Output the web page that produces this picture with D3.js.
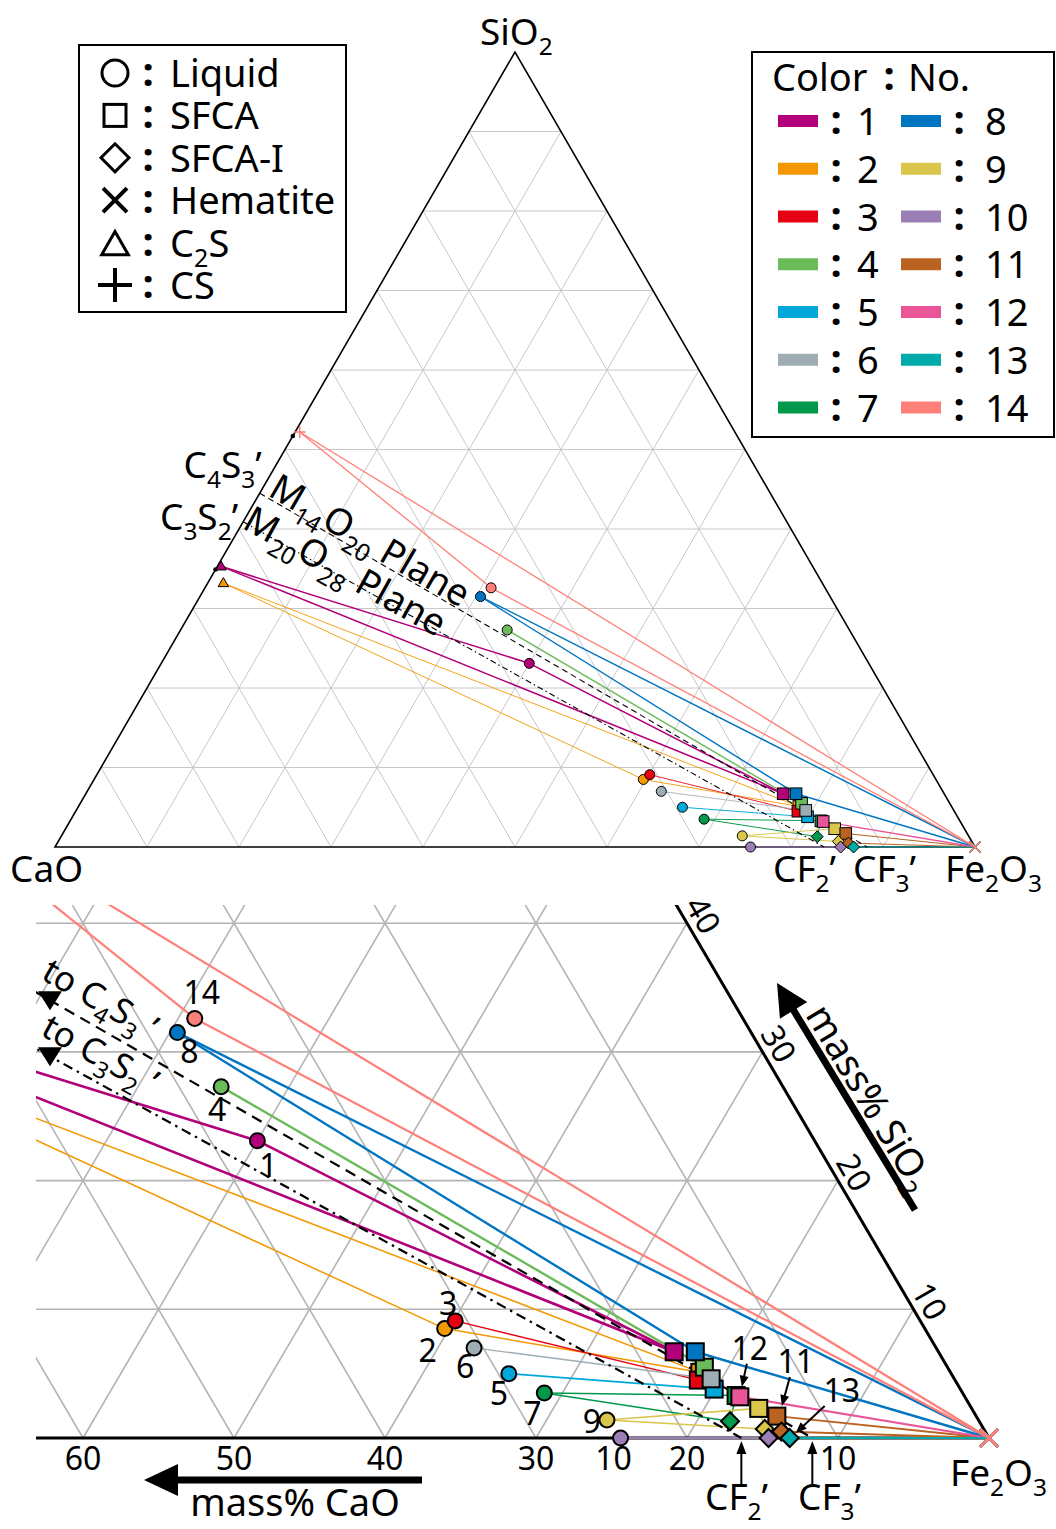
<!DOCTYPE html>
<html lang="en">
<head>
<meta charset="UTF-8">
<title>CaO-SiO2-Fe2O3 phase compositions</title>
<script src="https://d3js.org/d3.v7.min.js"></script>
<style>
  body { margin: 0; background: #fff; }
  text { font-family: "Noto Sans", "DejaVu Sans", sans-serif; fill: #000; }
</style>
</head>
<body>
<svg width="1056" height="1529"></svg>
<script>
// sample numbers and colours
const sampleNo = d3.range(1, 15);
const sampleColor = ["#b10079", "#f39800", "#e60012", "#6cbb5a", "#00a7db", "#9eacb4", "#00984a",
                     "#0075c2", "#d9c64b", "#9c7eb7", "#ba6321", "#e95598", "#00aba9", "#ff8078"];

// phase compositions, mass% (Fe2O3 is the balance)
const liquid = [
  { no: 1, CaO: 36.9, SiO2: 23.1 }, { no: 2, CaO: 31.8, SiO2: 8.5 }, { no: 3, CaO: 30.8, SiO2: 9.1 },
  { no: 4, CaO: 37.2, SiO2: 27.3 }, { no: 5, CaO: 29.3, SiO2: 5.0 }, { no: 6, CaO: 30.6, SiO2: 7.0 },
  { no: 7, CaO: 27.7, SiO2: 3.5 }, { no: 8, CaO: 38.0, SiO2: 31.5 }, { no: 9, CaO: 24.6, SiO2: 1.4 },
  { no: 10, CaO: 24.4, SiO2: 0.0 }, { no: 14, CaO: 36.3, SiO2: 32.6 }
];
const sfca = [
  { no: 1, CaO: 17.5, SiO2: 6.7 }, { no: 2, CaO: 16.6, SiO2: 5.1 }, { no: 3, CaO: 17.0, SiO2: 4.5 },
  { no: 4, CaO: 16.1, SiO2: 5.5 }, { no: 5, CaO: 16.3, SiO2: 3.8 }, { no: 6, CaO: 16.1, SiO2: 4.6 },
  { no: 7, CaO: 15.1, SiO2: 3.3 }, { no: 8, CaO: 16.1, SiO2: 6.7 }, { no: 9, CaO: 14.1, SiO2: 2.3 },
  { no: 11, CaO: 13.2, SiO2: 1.7 }, { no: 12, CaO: 14.9, SiO2: 3.2 }
];
const sfcaI = [
  { no: 7, CaO: 16.5, SiO2: 1.3 }, { no: 9, CaO: 14.5, SiO2: 0.7 }, { no: 10, CaO: 14.6, SiO2: 0.0 },
  { no: 11, CaO: 13.5, SiO2: 0.5 }, { no: 13, CaO: 13.2, SiO2: 0.0 }
];
const c2s = [{ no: 1, CaO: 64.3, SiO2: 35.3 }, { no: 2, CaO: 65.1, SiO2: 33.2 }];
const cs = [{ no: 14, CaO: 47.3, SiO2: 52.2 }];
const hematite = [
  { no: 8, CaO: 0, SiO2: 0 }, { no: 11, CaO: 0, SiO2: 0 }, { no: 12, CaO: 0, SiO2: 0 },
  { no: 13, CaO: 0, SiO2: 0 }, { no: 14, CaO: 0, SiO2: 0 }
];

// tie lines: [sample, phase, phase]
const tieLines = [
  [1, "C2S", "Liquid"], [1, "C2S", "SFCA"], [1, "Liquid", "SFCA"],
  [2, "C2S", "Liquid"], [2, "C2S", "SFCA"], [2, "Liquid", "SFCA"],
  [3, "Liquid", "SFCA"], [4, "Liquid", "SFCA"], [5, "Liquid", "SFCA"], [6, "Liquid", "SFCA"],
  [7, "Liquid", "SFCA"], [7, "Liquid", "SFCA-I"], [7, "SFCA", "SFCA-I"],
  [8, "Liquid", "SFCA"], [8, "Liquid", "Hematite"], [8, "SFCA", "Hematite"],
  [9, "Liquid", "SFCA"], [9, "Liquid", "SFCA-I"], [9, "SFCA", "SFCA-I"],
  [10, "Liquid", "SFCA-I"],
  [11, "SFCA", "Hematite"], [11, "SFCA-I", "Hematite"], [11, "SFCA", "SFCA-I"],
  [12, "SFCA", "Hematite"], [13, "SFCA-I", "Hematite"],
  [14, "CS", "Liquid"], [14, "CS", "Hematite"], [14, "Liquid", "Hematite"]
];

// stoichiometric CS and C2S
const refDots = [{ CaO: 48.3, SiO2: 51.7 }, { CaO: 65.1, SiO2: 34.9 }];

// plane traces
const planeEnds = {
  "C4S3": { CaO: 55.5, SiO2: 44.5 }, "C3S2": { CaO: 59.1, SiO2: 40.9 },
  "CF2": { CaO: 16.4, SiO2: 0 }, "CF3": { CaO: 11.7, SiO2: 0 }
};
const planes = [
  { from: "C4S3", to: "CF3", label: "M_14O_20 Plane", endLabel: "C_4S_3’", toLabel: "to C_4S_3 ’" },
  { from: "C3S2", to: "CF2", label: "M_20O_28 Plane", endLabel: "C_3S_2’", toLabel: "to C_3S_2 ’" }
];

const cao_ticks = [10, 20, 30, 40, 50, 60];
const sio2_ticks = [10, 20, 30, 40];
const phaseNames = ["Liquid", "SFCA", "SFCA-I", "Hematite", "C2S", "CS"];
const phaseLabels = ["Liquid", "SFCA", "SFCA-I", "Hematite", "C_2S", "CS"];

// ---------------- layout / style ----------------
const svg = d3.select("svg");
const topSc = { x: d3.scaleLinear().domain([0, 100]).range([55, 975]),
                y: d3.scaleLinear().domain([0, 100]).range([847, 52]) };
const botSc = { x: d3.scaleLinear().domain([0, 100]).range([-521, 989]),
                y: d3.scaleLinear().domain([0, 100]).range([1438, 151]) };
const pos = (sc, cao, sio2) => [sc.x(100 - cao - sio2 / 2), sc.y(sio2)];

const topStyle = { grid: "#c8c8c8", gridW: 1, edgeW: 1.6, lw: 0.6, r: 5, sq: 5.8, dia: 6, tri: 5.5,
                   plus: 6, cross: 5.5, mk: 1, symW: 1.5, planeW: 1.1, dashes: ["6,4", "6,3,1.5,3"] };
const botStyle = { grid: "#b4b4b4", gridW: 1.6, edgeW: 3, lw: 1, r: 7.5, sq: 8.5, dia: 9, tri: 9,
                   plus: 9, cross: 9, mk: 2, symW: 3, planeW: 2.2, dashes: ["11,7", "10,5,2.5,5"] };
const lineWidth = { 1: 2.6, 2: 1.5, 3: 1.4, 4: 2.4, 5: 1.6, 6: 1.4, 7: 1.6, 8: 2.4, 9: 1.6,
                    10: 2, 11: 2, 12: 2.2, 13: 2, 14: 2.2 };

const phaseData = { "Liquid": liquid, "SFCA": sfca, "SFCA-I": sfcaI, "C2S": c2s, "CS": cs, "Hematite": hematite };
const colorOf = no => sampleColor[sampleNo.indexOf(no)];
const find = (no, ph) => phaseData[ph].find(d => d.no === no);

// text with "_" subscripts
function rich(t, str, fs) {
  let low = false;
  str.split(/(_\d+)/).filter(s => s !== "").forEach(p => {
    const sub = p[0] === "_";
    const ts = t.append("tspan").text(sub ? p.slice(1) : p);
    if (sub) { ts.attr("font-size", fs * 0.66).attr("dy", fs * 0.27); low = true; }
    else if (low) { ts.attr("dy", -fs * 0.27); low = false; }
  });
  return t;
}
function label(g, str, x, y, fs, anchor = "start", rot = 0, lx = 0, ly = 0) {
  const t = g.append("text").attr("font-size", fs).attr("text-anchor", anchor)
    .attr("transform", `translate(${x},${y}) rotate(${rot})`).attr("x", lx).attr("y", ly);
  return rich(t, str, fs);
}
function colon(g, x, y) {
  g.append("text").attr("x", x).attr("y", y).attr("font-size", 40).attr("font-weight", "bold")
    .attr("text-anchor", "middle").text(":");
}
function arrow(g, x0, y0, x1, y1, w, hl, hw) {
  const ang = Math.atan2(y1 - y0, x1 - x0) * 180 / Math.PI;
  const L = Math.hypot(x1 - x0, y1 - y0);
  const a = g.append("g").attr("transform", `translate(${x0},${y0}) rotate(${ang})`);
  a.append("line").attr("x2", L - hl + 1).attr("stroke", "#000").attr("stroke-width", w);
  a.append("path").attr("d", `M${L},0L${L - hl},${-hw / 2}L${L - hl},${hw / 2}Z`).attr("fill", "#000");
}

function drawMarker(g, ph, x, y, color, st) {
  if (ph === "Liquid") {
    g.append("circle").attr("cx", x).attr("cy", y).attr("r", st.r)
      .attr("fill", color).attr("stroke", "#000").attr("stroke-width", st.mk);
  } else if (ph === "SFCA") {
    g.append("rect").attr("x", x - st.sq).attr("y", y - st.sq).attr("width", 2 * st.sq).attr("height", 2 * st.sq)
      .attr("fill", color).attr("stroke", "#000").attr("stroke-width", st.mk);
  } else if (ph === "SFCA-I") {
    const d = st.dia;
    g.append("path").attr("d", `M${x},${y - d}L${x + d},${y}L${x},${y + d}L${x - d},${y}Z`)
      .attr("fill", color).attr("stroke", "#000").attr("stroke-width", st.mk);
  } else if (ph === "C2S") {
    const t = st.tri;
    g.append("path").attr("d", `M${x},${y - t}L${x + t * 0.95},${y + t * 0.65}L${x - t * 0.95},${y + t * 0.65}Z`)
      .attr("fill", color).attr("stroke", "#000").attr("stroke-width", st.mk);
  } else if (ph === "CS") {
    const p = st.plus;
    g.append("path").attr("d", `M${x - p},${y}H${x + p}M${x},${y - p}V${y + p}`)
      .attr("stroke", color).attr("stroke-width", st.symW);
  } else if (ph === "Hematite") {
    const c = st.cross;
    g.append("path").attr("d", `M${x - c},${y - c}L${x + c},${y + c}M${x - c},${y + c}L${x + c},${y - c}`)
      .attr("stroke", color).attr("stroke-width", st.symW);
  }
}

function drawPanel(g, sc, st, fullEdge) {
  // grid
  const gg = g.append("g").attr("stroke", st.grid).attr("stroke-width", st.gridW);
  for (let k = 10; k < 100; k += 10) {
    [[[100 - k, k], [0, k]], [[k, 0], [k, 100 - k]], [[100 - k, 0], [0, 100 - k]]].forEach(([a, b]) => {
      const p = pos(sc, a[0], a[1]), q = pos(sc, b[0], b[1]);
      gg.append("line").attr("x1", p[0]).attr("y1", p[1]).attr("x2", q[0]).attr("y2", q[1]);
    });
  }
  // edges
  const V = [pos(sc, 100, 0), pos(sc, 0, 0), pos(sc, 0, 100)];
  g.append("path").attr("d", fullEdge ? `M${V[0]}L${V[1]}L${V[2]}Z` : `M${V[0]}L${V[1]}L${V[2]}`)
    .attr("fill", "none").attr("stroke", "#000").attr("stroke-width", st.edgeW).attr("stroke-linejoin", "miter");
  // tie lines
  tieLines.forEach(([no, a, b]) => {
    const p = find(no, a), q = find(no, b);
    const P = pos(sc, p.CaO, p.SiO2), Q = pos(sc, q.CaO, q.SiO2);
    g.append("line").attr("x1", P[0]).attr("y1", P[1]).attr("x2", Q[0]).attr("y2", Q[1])
      .attr("stroke", colorOf(no)).attr("stroke-width", lineWidth[no] * st.lw);
  });
  // plane traces
  planes.forEach((pl, i) => {
    const P = pos(sc, planeEnds[pl.from].CaO, planeEnds[pl.from].SiO2);
    const Q = pos(sc, planeEnds[pl.to].CaO, planeEnds[pl.to].SiO2);
    g.append("line").attr("x1", P[0]).attr("y1", P[1]).attr("x2", Q[0]).attr("y2", Q[1])
      .attr("stroke", "#000").attr("stroke-width", st.planeW).attr("stroke-dasharray", st.dashes[i]);
  });
  // markers
  if (fullEdge) refDots.forEach(d => {
    const P = pos(sc, d.CaO, d.SiO2);
    g.append("circle").attr("cx", P[0]).attr("cy", P[1]).attr("r", 2.3).attr("fill", "#000");
  });
  ["Liquid", "SFCA", "SFCA-I", "C2S", "CS", "Hematite"].forEach(ph => {
    phaseData[ph].forEach(d => {
      const P = pos(sc, d.CaO, d.SiO2);
      drawMarker(g, ph, P[0], P[1], colorOf(d.no), st);
    });
  });
}

// ---------------- upper panel: whole diagram ----------------
const topG = svg.append("g");
drawPanel(topG, topSc, topStyle, true);
label(topG, "SiO_2", 480, 45, 37);
label(topG, "CaO", 10, 882, 37);
label(topG, "CF_2’", 773, 882, 37);
label(topG, "CF_3’", 853, 882, 37);
label(topG, "Fe_2O_3", 945, 882, 37);

const topPlaneText = [{ lx: 7, ly: -2, ex: 2, ey: -15 }, { lx: 1, ly: 6, ex: -5, ey: 8 }];
planes.forEach((pl, i) => {
  const P = pos(topSc, planeEnds[pl.from].CaO, planeEnds[pl.from].SiO2);
  const Q = pos(topSc, planeEnds[pl.to].CaO, planeEnds[pl.to].SiO2);
  const ang = Math.atan2(Q[1] - P[1], Q[0] - P[0]) * 180 / Math.PI;
  const o = topPlaneText[i];
  label(topG, pl.label, P[0], P[1], 37, "start", ang, o.lx, o.ly);
  label(topG, pl.endLabel, P[0] + o.ex, P[1] + o.ey, 37, "end");
});

// legend: phases
const lg = svg.append("g");
lg.append("rect").attr("x", 79).attr("y", 45).attr("width", 267).attr("height", 267)
  .attr("fill", "#fff").attr("stroke", "#000").attr("stroke-width", 2);
const legSym = { r: 13, sq: 11, dia: 14, tri: 14, plus: 17, cross: 12, mk: 3, symW: 4 };
phaseNames.forEach((ph, i) => {
  const cy = 73 + i * 42.4;
  drawMarker(lg, ph, 115, ph === "C2S" ? cy + 3 : cy, ph === "CS" || ph === "Hematite" ? "#000" : "none", legSym);
  colon(lg, 148, cy + 13);
  label(lg, phaseLabels[i], 170, cy + 14, 38);
});

// legend: colours
const cg = svg.append("g");
cg.append("rect").attr("x", 752).attr("y", 52).attr("width", 302).attr("height", 385)
  .attr("fill", "#fff").attr("stroke", "#000").attr("stroke-width", 2);
cg.append("text").attr("x", 772).attr("y", 91).attr("font-size", 38).text("Color");
colon(cg, 889, 90);
cg.append("text").attr("x", 908).attr("y", 91).attr("font-size", 38).text("No.");
sampleNo.forEach((no, i) => {
  const col = Math.floor(i / 7), row = i % 7;
  const cy = 121 + row * 47.75, x0 = col ? 901 : 778;
  cg.append("rect").attr("x", x0).attr("y", cy - 6).attr("width", 40).attr("height", 12).attr("fill", colorOf(no));
  colon(cg, x0 + 58, cy + 13);
  cg.append("text").attr("x", x0 + (col ? 84 : 79)).attr("y", cy + 14).attr("font-size", 38).text(no);
});

// ---------------- lower panel: enlarged Fe2O3 corner ----------------
svg.append("defs").append("clipPath").attr("id", "zoomClip")
  .append("rect").attr("x", 36).attr("y", 905).attr("width", 1020).attr("height", 624);
const botG = svg.append("g").attr("clip-path", "url(#zoomClip)");
drawPanel(botG, botSc, botStyle, false);

const ann = svg.append("g");
// CaO axis
cao_ticks.forEach(c => {
  const P = pos(botSc, c, 0);
  ann.append("text").attr("x", P[0]).attr("y", 1470).attr("font-size", 32).attr("text-anchor", "middle").text(c);
});
arrow(ann, 422, 1480, 144, 1480, 7, 34, 32);
label(ann, "mass% CaO", 295, 1516, 38, "middle");
// SiO2 axis
sio2_ticks.forEach(s => {
  const P = pos(botSc, 0, s);
  ann.append("text").attr("font-size", 32).attr("text-anchor", "middle")
    .attr("transform", `translate(${P[0]},${P[1]}) rotate(60)`).attr("x", 1).attr("y", -6.5).text(s);
});
arrow(ann, 915, 1210, 777, 983, 7, 32, 32);
label(ann, "mass% SiO_2", 846, 1097, 38, "middle", 59, 13, -7);
label(ann, "Fe_2O_3", 950, 1486, 37);

// CF2', CF3' pointers
[["CF2", "CF_2’", 705], ["CF3", "CF_3’", 798]].forEach(([k, txt, x0]) => {
  const P = pos(botSc, planeEnds[k].CaO, planeEnds[k].SiO2);
  arrow(ann, P[0], 1485, P[0], 1441, 2, 13, 10);
  label(ann, txt, x0, 1510, 37);
});

// "to C4S3'" / "to C3S2'" markers where the traces enter the panel
planes.forEach(pl => {
  const P = pos(botSc, planeEnds[pl.from].CaO, planeEnds[pl.from].SiO2);
  const Q = pos(botSc, planeEnds[pl.to].CaO, planeEnds[pl.to].SiO2);
  const x = 50, y = P[1] + (x - P[0]) * (Q[1] - P[1]) / (Q[0] - P[0]);
  const ang = Math.atan2(Q[1] - P[1], Q[0] - P[0]) * 180 / Math.PI;
  ann.append("path").attr("d", `M${x - 12},${y - 9}L${x + 12},${y - 9}L${x},${y + 10}Z`).attr("fill", "#000");
  label(ann, pl.toLabel, x, y, 35, "start", ang, -20, -14);
});

// sample numbers
const numLabelStyle = [
  { no: 14, ph: "Liquid", dx: 7, dy: -14 }, { no: 8, ph: "Liquid", dx: 12, dy: 30 },
  { no: 4, ph: "Liquid", dx: -4, dy: 34 }, { no: 1, ph: "Liquid", dx: 11, dy: 36 },
  { no: 3, ph: "Liquid", dx: -7, dy: -6 }, { no: 2, ph: "Liquid", dx: -17, dy: 33 },
  { no: 6, ph: "Liquid", dx: -9, dy: 30 }, { no: 5, ph: "Liquid", dx: -10, dy: 31 },
  { no: 7, ph: "Liquid", dx: -12, dy: 32 }, { no: 9, ph: "Liquid", dx: -15, dy: 13 },
  { no: 10, ph: "Liquid", dx: -7, dy: 32 },
  { no: 12, ph: "SFCA", dx: 10, dy: -37, arrow: [7, -33, 2, -10] },
  { no: 11, ph: "SFCA", dx: 19, dy: -43, arrow: [13, -39, 5, -10] },
  { no: 13, ph: "SFCA-I", dx: 52, dy: -36, arrow: [35, -32, 6, -5] }
];
numLabelStyle.forEach(s => {
  const d = find(s.no, s.ph);
  const P = pos(botSc, d.CaO, d.SiO2);
  ann.append("text").attr("x", P[0] + s.dx).attr("y", P[1] + s.dy).attr("font-size", 32)
    .attr("text-anchor", "middle").text(s.no);
  if (s.arrow) arrow(ann, P[0] + s.arrow[0], P[1] + s.arrow[1], P[0] + s.arrow[2], P[1] + s.arrow[3], 2, 11, 9);
});
</script>
</body>
</html>
